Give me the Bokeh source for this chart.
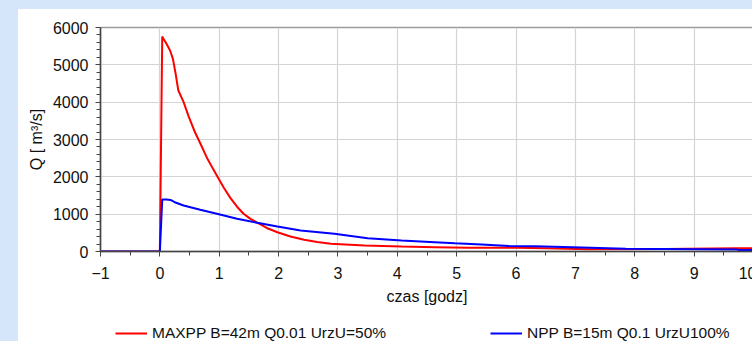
from bokeh.plotting import figure
from bokeh.layouts import column
from bokeh.models import FixedTicker, Legend, LegendItem, GlobalInlineStyleSheet
from bokeh.embed import file_html
from bokeh.resources import INLINE

# --- data ---
x_red = [-1, 0.0, 0.04, 0.06, 0.10, 0.17, 0.22, 0.27, 0.31, 0.40, 0.48, 0.59, 0.68,
         0.79, 0.90, 0.99, 1.08, 1.19, 1.30, 1.41, 1.52, 1.64, 1.80, 1.98, 2.20, 2.43,
         2.65, 2.88, 3.45, 4.07, 4.63, 5.2, 6.0, 6.5, 7.2, 8.5, 9.7, 10.0]
q_red = [0, 0, 5760, 5700, 5600, 5390, 5160, 4720, 4320, 4000, 3640, 3200, 2900,
         2520, 2200, 1950, 1700, 1430, 1200, 1010, 880, 775, 630, 517, 400, 313,
         255, 206, 161, 134, 116, 100, 98, 85, 62, 65, 85, 90]

x_blue = [-1, 0.0, 0.04, 0.11, 0.18, 0.25, 0.40, 0.68, 0.96, 1.30, 1.64, 1.98, 2.37,
          2.94, 3.5, 4.07, 4.63, 4.97, 5.42, 5.88, 6.32, 6.95, 7.85, 9.71, 9.75, 10.0]
q_blue = [0, 0, 1395, 1393, 1380, 1320, 1232, 1116, 1010, 876, 769, 670, 563,
          474, 357, 295, 250, 222, 188, 150, 140, 116, 72, 54, 38, 38]

x_ticks = [-1, 0, 1, 2, 3, 4, 5, 6, 7, 8, 9, 10]
y_ticks = [0, 1000, 2000, 3000, 4000, 5000, 6000]

label_red = "MAXPP B=42m Q0.01 UrzU=50%"
label_blue = "NPP B=15m Q0.1 UrzU100%"

FONT = "Liberation Sans"
RED = "#ff0000"
BLUE = "#0000ff"

fig = figure(width=738, height=309, x_range=(-1, 10), y_range=(0, 6000),
             output_backend="svg", toolbar_location=None,
             min_border_left=82, min_border_right=3, min_border_top=18, min_border_bottom=67,
             border_fill_color="white", background_fill_color="white")

fig.outline_line_color = "#9a9a9a"
fig.outline_line_width = 1.5

fig.line(x_red, q_red, line_color=RED, line_width=2)
fig.line(x_blue, q_blue, line_color=BLUE, line_width=2)

x_minor = [t + 0.5 for t in x_ticks[:-1]]
y_minor = [a + k * 200 for a in y_ticks[:-1] for k in range(1, 5)]
fig.xaxis.ticker = FixedTicker(ticks=x_ticks, minor_ticks=x_minor)
fig.yaxis.ticker = FixedTicker(ticks=y_ticks, minor_ticks=y_minor)

for ax in (fig.xaxis, fig.yaxis):
    ax.axis_line_color = "#444444"
    ax.axis_line_width = 1.5
    ax.major_tick_line_color = "#444444"
    ax.minor_tick_line_color = "#444444"
    ax.major_tick_out = 5
    ax.major_tick_in = 0
    ax.minor_tick_out = 4
    ax.minor_tick_in = 0
    ax.major_label_text_font = FONT
    ax.major_label_text_font_size = "16px"
    ax.major_label_text_color = "#111111"
    ax.axis_label_text_font = FONT
    ax.axis_label_text_font_size = "16px"
    ax.axis_label_text_font_style = "normal"
    ax.axis_label_text_color = "#111111"

fig.xaxis.axis_label = "czas [godz]"
fig.yaxis.axis_label = "Q [ m³/s]"
fig.xaxis.major_label_standoff = 10
fig.yaxis.major_label_standoff = 7
fig.xaxis.axis_label_standoff = 6
fig.yaxis.axis_label_standoff = 5

fig.xgrid.grid_line_color = "#d4d4d4"
fig.ygrid.grid_line_color = "#d4d4d4"
fig.xgrid.grid_line_width = 1.2
fig.ygrid.grid_line_width = 1.2

# legend strip below the chart (its lines use the same data, kept out of view)
leg = figure(width=738, height=24, x_axis_type=None, y_axis_type=None,
             x_range=(-1, 10), y_range=(100000, 100001),
             output_backend="svg", toolbar_location=None,
             min_border_left=0, min_border_right=0, min_border_top=0, min_border_bottom=0,
             border_fill_color="white", background_fill_color="white")
leg.outline_line_color = None
lr = leg.line(x_red, q_red, line_color=RED, line_width=2)
lb = leg.line(x_blue, q_blue, line_color=BLUE, line_width=2)

legend = Legend(items=[LegendItem(label=label_red, renderers=[lr]),
                       LegendItem(label=label_blue, renderers=[lb])],
                orientation="horizontal", location=(15, 0), spacing=104,
                glyph_width=32, glyph_height=16, label_standoff=5, padding=0,
                margin=0, border_line_color=None, background_fill_alpha=0,
                label_text_font=FONT, label_text_font_size="15.5px",
                label_text_color="#111111")
leg.add_layout(legend)

p = column(fig, leg, spacing=0, margin=(9, 0, 0, 18),
           styles={"background-color": "white"})
p.stylesheets = [GlobalInlineStyleSheet(
    css="html, body {margin:0; padding:0; overflow:hidden; background-color:#d6e6fa;}")]

open("out.html", "w").write(file_html(p, INLINE))
